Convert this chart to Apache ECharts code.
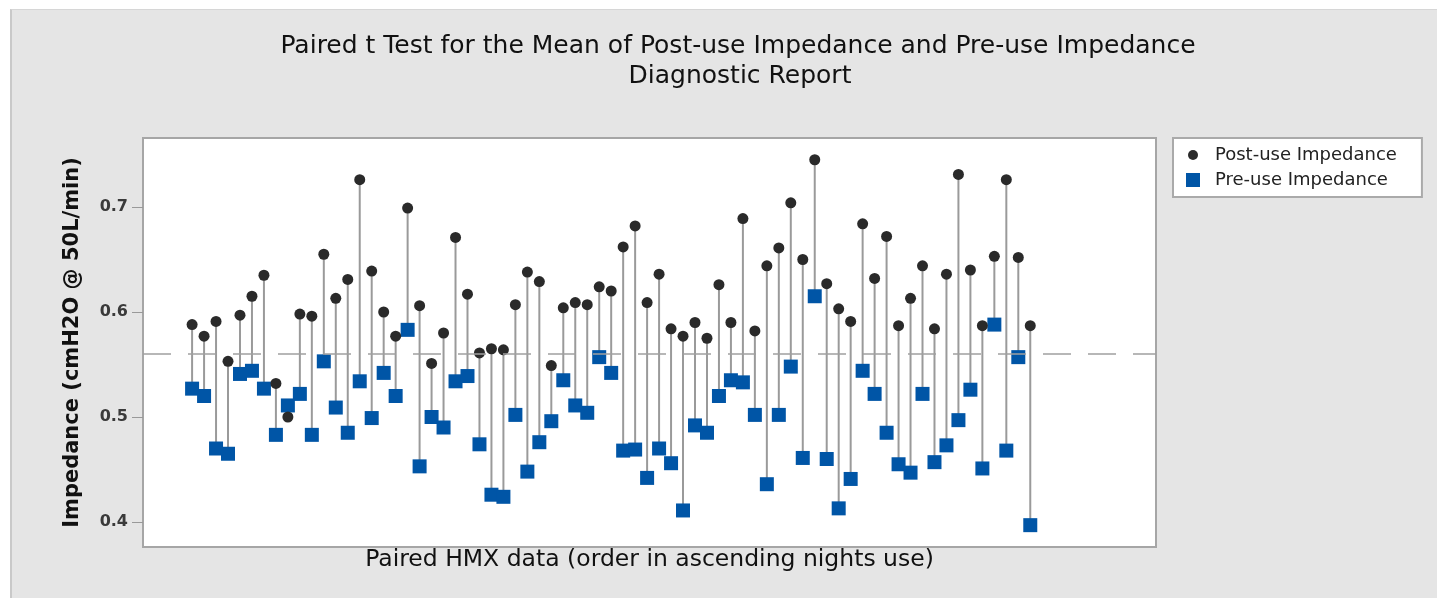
<!DOCTYPE html>
<html>
<head>
<meta charset="utf-8">
<script src="https://cdn.jsdelivr.net/npm/echarts@6/dist/echarts.min.js"></script>
<style>
  body { margin: 0; background: #fff; }
  #panel {
    position: absolute; left: 10px; top: 9px; right: 0; bottom: 0;
    background: #e5e5e5;
    border-left: 2px solid #c9c9c9;
    border-top: 1px solid #d6d6d6;
  }
  #chart { position: absolute; left: 0; top: 0; width: 1437px; height: 598px; }
</style>
</head>
<body>
<div id="panel"></div>
<div id="chart"></div>
<script>
// post / pre impedance per paired HMX (order in ascending nights use)
const postUse = [0.588, 0.577, 0.591, 0.553, 0.597, 0.615, 0.635, 0.532, 0.500, 0.598,
  0.596, 0.655, 0.613, 0.631, 0.726, 0.639, 0.600, 0.577, 0.699, 0.606,
  0.551, 0.580, 0.671, 0.617, 0.561, 0.565, 0.564, 0.607, 0.638, 0.629,
  0.549, 0.604, 0.609, 0.607, 0.624, 0.620, 0.662, 0.682, 0.609, 0.636,
  0.584, 0.577, 0.590, 0.575, 0.626, 0.590, 0.689, 0.582, 0.644, 0.661,
  0.704, 0.650, 0.745, 0.627, 0.603, 0.591, 0.684, 0.632, 0.672, 0.587,
  0.613, 0.644, 0.584, 0.636, 0.731, 0.640, 0.587, 0.653, 0.726, 0.652, 0.587];
const preUse = [0.527, 0.520, 0.470, 0.465, 0.541, 0.544, 0.527, 0.483, 0.511, 0.522,
  0.483, 0.553, 0.509, 0.485, 0.534, 0.499, 0.542, 0.520, 0.583, 0.453,
  0.500, 0.490, 0.534, 0.539, 0.474, 0.426, 0.424, 0.502, 0.448, 0.476,
  0.496, 0.535, 0.511, 0.504, 0.557, 0.542, 0.468, 0.469, 0.442, 0.470,
  0.456, 0.411, 0.492, 0.485, 0.520, 0.535, 0.533, 0.502, 0.436, 0.502,
  0.548, 0.461, 0.615, 0.460, 0.413, 0.441, 0.544, 0.522, 0.485, 0.455,
  0.447, 0.522, 0.457, 0.473, 0.497, 0.526, 0.451, 0.588, 0.468, 0.557, 0.397];
const pairIdx = postUse.map((v, i) => i);
const yTicks = [0.4, 0.5, 0.6, 0.7];
const refLine = 0.558;

const FONT = '"DejaVu Sans", "Open Sans", sans-serif';

const chart = echarts.init(document.getElementById('chart'), null, { renderer: 'canvas' });

const stems = pairIdx.map((i) => [i, postUse[i], preUse[i]]);

const option = {
  backgroundColor: 'transparent',
  animation: false,
  title: [
    {
      text: 'Paired t Test for the Mean of Post-use Impedance and Pre-use Impedance',
      left: 733, top: 29, textAlign: 'center',
      textStyle: { fontFamily: FONT, fontSize: 25, fontWeight: 'normal', color: '#111' }
    },
    {
      text: 'Diagnostic Report',
      left: 735, top: 59, textAlign: 'center',
      textStyle: { fontFamily: FONT, fontSize: 25, fontWeight: 'normal', color: '#111' }
    }
  ],
  legend: {
    orient: 'vertical',
    left: 1173, top: 138,
    padding: [8, 25, 8, 13],
    itemWidth: 34, itemHeight: 14,
    itemGap: 7,
    backgroundColor: '#fff',
    borderColor: '#aaa', borderWidth: 2,
    textStyle: { fontFamily: FONT, fontSize: 18, color: '#222' },
    data: [
      { name: 'Post-use Impedance', icon: 'path://M0,0M14,14M2,7a5,5 0 1,0 10,0a5,5 0 1,0 -10,0z' },
      { name: 'Pre-use Impedance', icon: 'path://M0,0H14V14H0Z' }
    ]
  },
  grid: {
    left: 143, top: 138, width: 1013, height: 409,
    show: true, backgroundColor: '#fff',
    borderColor: '#a6a6a6', borderWidth: 2
  },
  xAxis: {
    type: 'value', min: -4.1, max: 80.5,
    name: 'Paired HMX data (order in ascending nights use)',
    nameLocation: 'middle', nameGap: 1,
    nameTextStyle: { fontFamily: FONT, fontSize: 23.5, color: '#111' },
    axisLine: { show: false, onZero: false }, axisTick: { show: false },
    axisLabel: { show: false }, splitLine: { show: false }
  },
  yAxis: {
    type: 'value', min: 0.3762, max: 0.7657,
    name: 'Impedance (cmH2O @ 50L/min)',
    nameLocation: 'middle', nameGap: 60, nameRotate: 90,
    nameTextStyle: { fontFamily: FONT, fontSize: 21, fontWeight: 'bold', color: '#111' },
    axisLine: { show: false, onZero: false },
    axisTick: { show: true, length: 11, customValues: yTicks, lineStyle: { color: '#999', width: 1 } },
    axisLabel: {
      margin: 15, customValues: yTicks,
      fontFamily: FONT, fontSize: 16, fontWeight: 'bold', color: '#3a3a3a',
      formatter: (v) => v.toFixed(1)
    },
    splitLine: { show: false }
  },
  series: [
    {
      type: 'custom',
      name: 'stems',
      z: 1,
      data: stems,
      encode: { x: 0, y: [1, 2] },
      renderItem: (params, api) => {
        const a = api.coord([api.value(0), api.value(1)]);
        const b = api.coord([api.value(0), api.value(2)]);
        return {
          type: 'line',
          shape: { x1: a[0], y1: a[1], x2: b[0], y2: b[1] },
          style: { stroke: '#9a9a9a', lineWidth: 2 }
        };
      }
    },
    {
      type: 'scatter',
      name: 'Pre-use Impedance',
      z: 3,
      symbol: 'rect', symbolSize: 14,
      itemStyle: { color: '#0055a6', opacity: 1 },
      data: pairIdx.map((i) => [i, preUse[i]])
    },
    {
      type: 'scatter',
      name: 'Post-use Impedance',
      z: 4,
      symbol: 'circle', symbolSize: 11,
      itemStyle: { color: '#2a2a2a', opacity: 1 },
      data: pairIdx.map((i) => [i, postUse[i]]),
      markLine: {
        silent: true, symbol: ['none', 'none'],
        label: { show: false },
        lineStyle: { color: '#a0a0a0', width: 1.5, type: [28, 17] },
        data: [{ yAxis: refLine }]
      }
    }
  ]
};

chart.setOption(option);
</script>
</body>
</html>
